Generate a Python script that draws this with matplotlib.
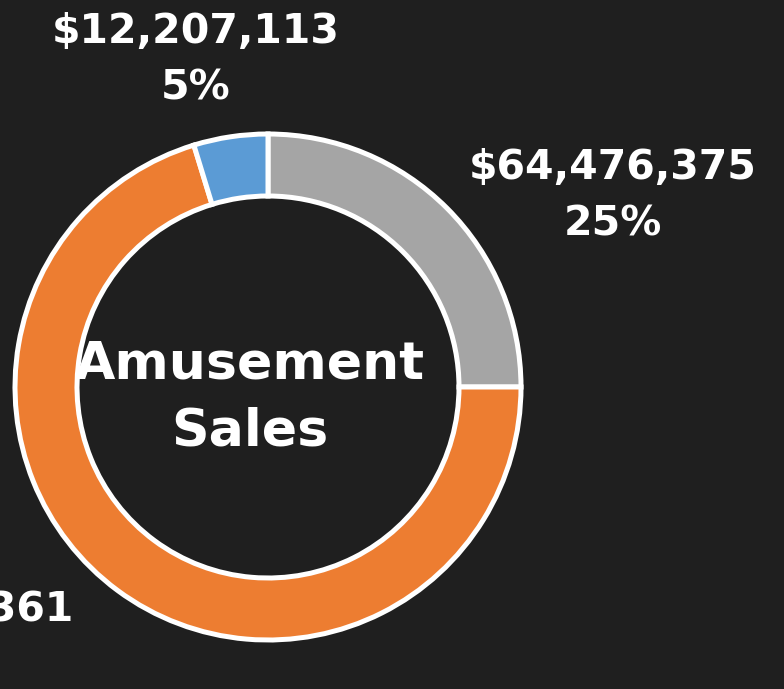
import matplotlib.pyplot as plt

# slice order: clockwise from 12 o'clock
segments = ["Segment A", "Segment B", "Segment C"]
sales = [64476375, 181222361, 12207113]
colors = ["#A5A5A5", "#ED7D31", "#5B9BD5"]
center_title = "Amusement\nSales"

W, H = 784, 689
bg = "#1f1f1f"

fig = plt.figure(figsize=(W / 100, H / 100), dpi=100, facecolor=bg)
ax = fig.add_axes([0, 0, 1, 1])
ax.set_facecolor(bg)

cx, cy, r = 268, H - 387, 253
ax.pie(
    sales,
    colors=colors,
    startangle=90,
    counterclock=False,
    center=(cx, cy),
    radius=r,
    wedgeprops=dict(width=62, edgecolor="white", linewidth=3.6),
)
ax.set_xlim(0, W)
ax.set_ylim(0, H)
ax.set_aspect("equal")
ax.axis("off")

total = sum(sales)
labels = [f"${v:,}\n{round(100 * v / total)}%" for v in sales]

font = dict(family="DejaVu Sans", fontweight="bold", color="white")

# label positions (pixels from top-left)
ax.text(613, H - 196, labels[0], ha="center", va="center",
        multialignment="center", fontsize=29.5, linespacing=1.53, **font)
ax.text(74, H - 590, labels[1], ha="right", va="top",
        multialignment="center", fontsize=29.5, linespacing=1.53, **font)
ax.text(196, H - 60.5, labels[2], ha="center", va="center",
        multialignment="center", fontsize=29.5, linespacing=1.53, **font)

ax.text(250, H - 398, center_title, ha="center", va="center",
        fontsize=37.5, linespacing=1.44, **font)

fig.savefig("out.png", dpi=100, facecolor=bg)
